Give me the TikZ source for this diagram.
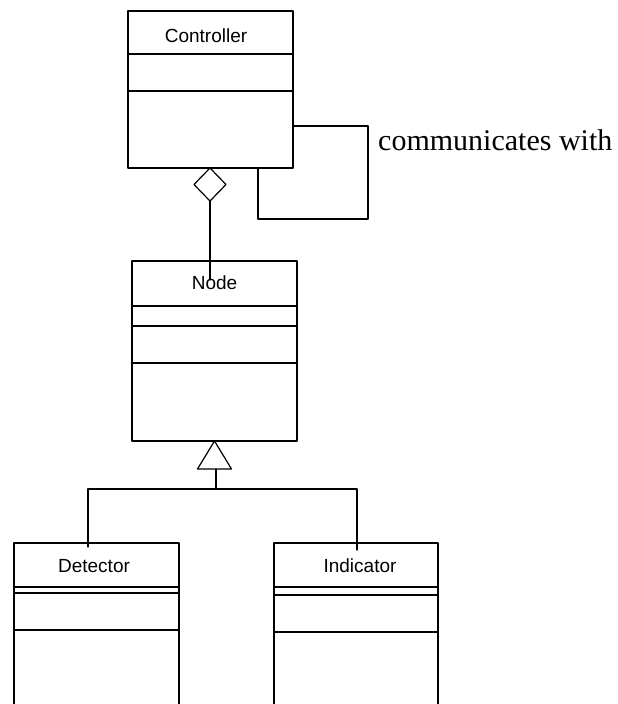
\documentclass[tikz,border=0pt]{standalone}
\usepackage{fontspec}
\setmainfont{Liberation Serif}
\setsansfont{Liberation Sans}
\usetikzlibrary{shapes.geometric}

\begin{document}
\begin{tikzpicture}[x=1pt,y=-1pt,line cap=round,line join=round,
    uml/.style={line width=1.2pt},
    classbox/.style={uml,draw,rectangle,inner sep=0pt,outer sep=0pt},
    classname/.style={font=\sffamily\fontsize{19}{22}\selectfont,anchor=base,inner sep=0pt},
    aggdiamond/.style={uml,draw,fill=white,diamond,inner sep=0pt,outer sep=0pt,
      minimum width=32pt,minimum height=33pt}]
  \path[use as bounding box] (0,0) rectangle (618,704);
  \clip (0,0) rectangle (618,704);

  \node[classbox,minimum width=165pt,minimum height=157pt] (ctrl) at (210.5,89.5) {};
  \node[classname] (ctrlname) at (206,42) {Controller};
  \foreach \y in {54,91}
    \draw[uml] (ctrl.west |- 0,\y) -- (ctrl.east |- 0,\y);

  \node[classbox,minimum width=165pt,minimum height=180pt] (node) at (214.5,351) {};
  \node[classname] (nodename) at (214.5,289) {Node};
  \foreach \y in {306,326,363}
    \draw[uml] (node.west |- 0,\y) -- (node.east |- 0,\y);

  \node[classbox,minimum width=165pt,minimum height=177pt] (det) at (96.5,631.5) {};
  \node[classname] (detname) at (94,572) {Detector};
  \foreach \y in {587,593,630}
    \draw[uml] (det.west |- 0,\y) -- (det.east |- 0,\y);

  \node[classbox,minimum width=164pt,minimum height=177pt] (ind) at (356,631.5) {};
  \node[classname] (indname) at (360,572) {Indicator};
  \foreach \y in {587,595,632}
    \draw[uml] (ind.west |- 0,\y) -- (ind.east |- 0,\y);

  \node[aggdiamond,anchor=north] (agg) at (210,168) {};
  \coordinate (aggend) at (210,280);
  \draw[uml] (agg.south) -- (aggend);

  \coordinate (loopcorner) at (368,219);
  \draw[uml] ([yshift=-36.5pt]ctrl.east) -| (loopcorner) -| ([xshift=47.5pt]ctrl.south);
  \node[font=\fontsize{30}{36}\selectfont,anchor=base west,inner sep=0pt] (commlbl)
    at (378,150) {communicates with};

  \coordinate (genbase) at (216,469);
  \coordinate (genjoin) at (216,489);
  \coordinate (detin) at (88,547);
  \coordinate (indin) at (357,550);
  \draw[uml,fill=white] (node.south) -- ++(-17,28) -- ++(34,0) -- cycle;
  \draw[uml] (genbase) -- (genjoin);
  \draw[uml] (detin) |- (genjoin) -| (indin);
\end{tikzpicture}
\end{document}
